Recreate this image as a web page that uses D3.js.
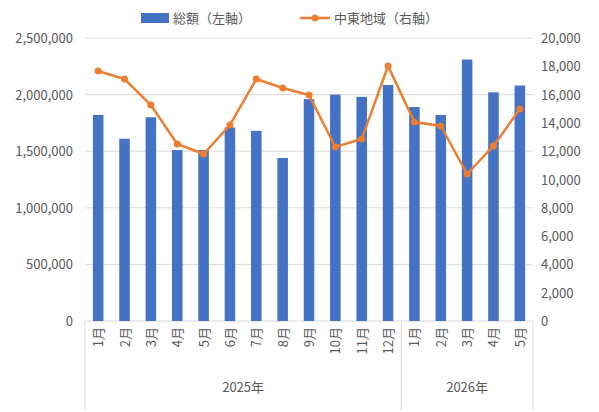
<!DOCTYPE html>
<html><head><meta charset="utf-8">
<script src="https://cdn.jsdelivr.net/npm/d3@7"></script>
<style>body{margin:0;background:#fff;font-family:"Noto Sans CJK JP","Noto Sans",sans-serif;}</style>
</head><body><svg id="c" width="599" height="412"></svg>
<script>
var months = ["1月","2月","3月","4月","5月","6月","7月","8月","9月","10月","11月","12月","1月","2月","3月","4月","5月"];
var years = [{label:"2025年", n:12},{label:"2026年", n:5}];
var totals = [1820000,1610000,1800000,1510000,1510000,1710000,1680000,1440000,1960000,2000000,1980000,2085000,1890000,1820000,2310000,2020000,2080000];
var middleEast = [17670,17100,15260,12510,11800,13850,17100,16470,15970,12300,12860,18020,14060,13780,10390,12370,14980];
var leftTicks = [0,500000,1000000,1500000,2000000,2500000];
var rightTicks = [0,2000,4000,6000,8000,10000,12000,14000,16000,18000,20000];

var svg = d3.select("#c");
var m = {l:85, r:533, t:38, b:321};
var x = d3.scaleBand().domain(d3.range(months.length)).range([m.l, m.r]).paddingInner(0.6).paddingOuter(0.3);
var yL = d3.scaleLinear().domain([0,2500000]).range([m.b, m.t]);
var yR = d3.scaleLinear().domain([0,20000]).range([m.b, m.t]);
var blue = "#4472C4", orange = "#ED7D31", txt = "#595959";

svg.selectAll(".g").data(leftTicks).enter().append("line")
  .attr("x1", m.l).attr("x2", m.r).attr("y1", d=>yL(d)).attr("y2", d=>yL(d))
  .attr("stroke", "#d9d9d9");
svg.selectAll(".lt").data(leftTicks).enter().append("text")
  .attr("x", 73).attr("y", d=>yL(d)+5).attr("text-anchor","end")
  .attr("font-size", 13).attr("fill", txt).text(d3.format(","));
svg.selectAll(".rt").data(rightTicks).enter().append("text")
  .attr("x", 541).attr("y", d=>yR(d)+5).attr("text-anchor","start")
  .attr("font-size", 13).attr("fill", txt).text(d=>d===0?"0":d3.format(",")(d));

svg.selectAll(".bar").data(totals).enter().append("rect")
  .attr("x", (d,i)=>x(i)).attr("width", x.bandwidth())
  .attr("y", d=>yL(d)).attr("height", d=>m.b-yL(d)).attr("fill", blue);

var line = d3.line().x((d,i)=>x(i)+x.bandwidth()/2).y(d=>yR(d));
svg.append("path").datum(middleEast).attr("d", line)
  .attr("fill","none").attr("stroke", orange).attr("stroke-width", 2.5);
svg.selectAll(".pt").data(middleEast).enter().append("circle")
  .attr("cx", (d,i)=>x(i)+x.bandwidth()/2).attr("cy", d=>yR(d)).attr("r", 3.5).attr("fill", orange);

// category axis
var step = x.step();
svg.selectAll(".ml").data(months).enter().append("text")
  .attr("transform", (d,i)=>"translate("+(x(i)+x.bandwidth()/2+5)+","+(m.b+6)+") rotate(-90)")
  .attr("text-anchor","end").attr("font-size", 13).attr("fill", txt).text(d=>d);
var start = m.l;
var bounds = [start];
years.forEach(function(y){ start += y.n*step; bounds.push(start); });
svg.selectAll(".sep").data(bounds).enter().append("line")
  .attr("x1", d=>d).attr("x2", d=>d).attr("y1", m.b).attr("y2", 410)
  .attr("stroke", "#d9d9d9");
svg.selectAll(".yl").data(years).enter().append("text")
  .attr("x", (d,i)=>(bounds[i]+bounds[i+1])/2).attr("y", 392)
  .attr("text-anchor","middle").attr("font-size", 13).attr("fill", txt).text(d=>d.label);

// legend
svg.append("rect").attr("x",141).attr("y",13).attr("width",28).attr("height",10).attr("fill",blue);
svg.append("text").attr("x",173).attr("y",23).attr("font-size",13).attr("fill",txt).text("総額（左軸）");
svg.append("line").attr("x1",300).attr("x2",330).attr("y1",18).attr("y2",18).attr("stroke",orange).attr("stroke-width",2.5);
svg.append("circle").attr("cx",315).attr("cy",18).attr("r",3.5).attr("fill",orange);
svg.append("text").attr("x",334).attr("y",23).attr("font-size",13).attr("fill",txt).text("中東地域（右軸）");
</script></body></html>
